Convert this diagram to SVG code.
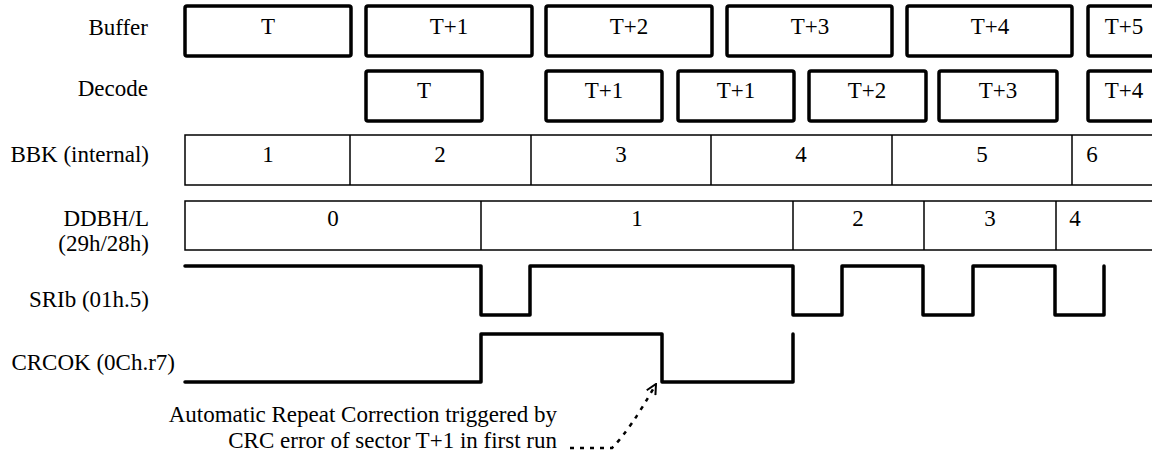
<svg xmlns="http://www.w3.org/2000/svg" width="1152" height="454" viewBox="0 0 1152 454">
<style>
text{font-family:"Liberation Serif","Times New Roman",serif;font-size:23px;fill:#000}
.lbl{text-anchor:end}
.c{text-anchor:middle}
.thick{fill:#fff;stroke:#000;stroke-width:3.5;stroke-linejoin:round}
.thin{fill:#fff;stroke:#000;stroke-width:1.5}
.sig{fill:none;stroke:#000;stroke-width:3.5;stroke-linejoin:round;stroke-linecap:round}
.div{stroke:#000;stroke-width:1.5}
</style>
<defs>
<marker id="open" viewBox="0 0 12 12" refX="11" refY="6" markerWidth="12" markerHeight="12" markerUnits="userSpaceOnUse" orient="auto">
<path d="M1,1 L11,6 L1,11" fill="none" stroke="#000" stroke-width="2"/>
</marker>
</defs>
<rect width="1152" height="454" fill="#fff"/>
<g id="labels">
<text class="lbl" x="148" y="35">Buffer</text>
<text class="lbl" x="148" y="96">Decode</text>
<text class="lbl" x="149" y="162">BBK (internal)</text>
<text class="lbl" x="149" y="226">DDBH/L</text>
<text class="lbl" x="149" y="251">(29h/28h)</text>
<text class="lbl" x="149" y="307">SRIb (01h.5)</text>
<text class="lbl" x="175" y="370">CRCOK (0Ch.r7)</text>
</g>
<g id="buffer">
<g id="buf-T"><rect class="thick" x="185" y="6" width="166" height="50" rx="2"/><text class="c" x="268" y="34">T</text></g>
<g id="buf-T1"><rect class="thick" x="366" y="6" width="166" height="50" rx="2"/><text class="c" x="449" y="34">T+1</text></g>
<g id="buf-T2"><rect class="thick" x="546" y="6" width="166" height="50" rx="2"/><text class="c" x="629" y="34">T+2</text></g>
<g id="buf-T3"><rect class="thick" x="727" y="6" width="165" height="50" rx="2"/><text class="c" x="810" y="34">T+3</text></g>
<g id="buf-T4"><rect class="thick" x="907" y="6" width="165" height="50" rx="2"/><text class="c" x="990" y="34">T+4</text></g>
<g id="buf-T5"><rect class="thick" x="1088" y="6" width="100" height="50" rx="2"/><text class="c" x="1124" y="34">T+5</text></g>
</g>
<g id="decode">
<g id="dec-T"><rect class="thick" x="366" y="71" width="116" height="50" rx="2"/><text class="c" x="424" y="98">T</text></g>
<g id="dec-T1a"><rect class="thick" x="546" y="71" width="116" height="50" rx="2"/><text class="c" x="604" y="98">T+1</text></g>
<g id="dec-T1b"><rect class="thick" x="678" y="71" width="116" height="50" rx="2"/><text class="c" x="736" y="98">T+1</text></g>
<g id="dec-T2"><rect class="thick" x="809" y="71" width="117" height="50" rx="2"/><text class="c" x="867" y="98">T+2</text></g>
<g id="dec-T3"><rect class="thick" x="939" y="71" width="118" height="50" rx="2"/><text class="c" x="998" y="98">T+3</text></g>
<g id="dec-T4"><rect class="thick" x="1088" y="71" width="100" height="50" rx="2"/><text class="c" x="1124" y="98">T+4</text></g>
</g>
<g id="bbk">
<rect class="thin" x="185" y="135" width="1000" height="50"/>
<line class="div" x1="350" y1="135" x2="350" y2="185"/>
<line class="div" x1="531" y1="135" x2="531" y2="185"/>
<line class="div" x1="711" y1="135" x2="711" y2="185"/>
<line class="div" x1="892" y1="135" x2="892" y2="185"/>
<line class="div" x1="1072" y1="135" x2="1072" y2="185"/>
<text class="c" x="268" y="162">1</text>
<text class="c" x="440" y="162">2</text>
<text class="c" x="621" y="162">3</text>
<text class="c" x="801" y="162">4</text>
<text class="c" x="982" y="162">5</text>
<text class="c" x="1092" y="162">6</text>
</g>
<g id="ddbh">
<rect class="thin" x="185" y="201" width="1000" height="49"/>
<line class="div" x1="481" y1="201" x2="481" y2="250"/>
<line class="div" x1="793" y1="201" x2="793" y2="250"/>
<line class="div" x1="924" y1="201" x2="924" y2="250"/>
<line class="div" x1="1056" y1="201" x2="1056" y2="250"/>
<text class="c" x="333" y="226">0</text>
<text class="c" x="637" y="226">1</text>
<text class="c" x="858" y="226">2</text>
<text class="c" x="990" y="226">3</text>
<text class="c" x="1075" y="226">4</text>
</g>
<g id="sribb">
<path class="sig" d="M185,266 H481 V315 H530 V266 H793 V315 H842 V266 H923 V315 H973 V266 H1055 V315 H1104 V266"/>
</g>
<g id="crcok">
<path class="sig" d="M185,382 H481 V334 H662 V382 H793 V334"/>
</g>
<g id="note">
<text class="lbl" x="557" y="422">Automatic Repeat Correction triggered by</text>
<text class="lbl" x="557" y="448">CRC error of sector T+1 in first run</text>
</g>
<g id="connectors">
<path d="M570,448 H612 Q630,430 656,384" fill="none" stroke="#000" stroke-width="2.5" stroke-dasharray="4,6" marker-end="url(#open)"/>
</g>
</svg>
